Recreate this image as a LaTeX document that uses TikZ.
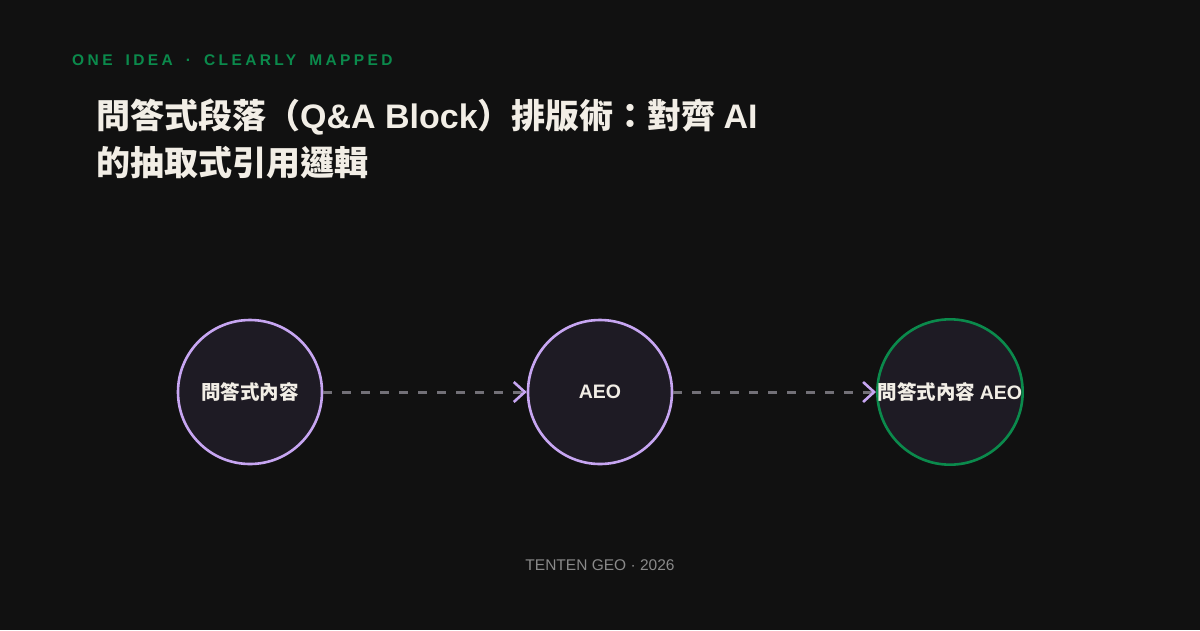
\documentclass[tikz,border=0pt]{standalone}
\usepackage{fontspec}
\usetikzlibrary{arrows.meta}
\newfontfamily\cjk{Noto Sans CJK TC}
\newfontfamily\lsans{Liberation Sans}
\newcommand{\lat}[1]{{\lsans\bfseries #1}}
\newcommand{\wsp}{\hspace{13pt}}
\definecolor{bg}{HTML}{111111}
\definecolor{nodefill}{HTML}{1E1B24}
\definecolor{lav}{HTML}{C7A6F2}
\definecolor{grn}{HTML}{0B8A4C}
\definecolor{txt}{HTML}{F2EEE6}
\definecolor{edgegray}{HTML}{727077}
\definecolor{foot}{HTML}{8A8A8A}
\tikzset{
  stage/.style={circle, minimum size=144pt, inner sep=0pt, fill=nodefill, line width=2.6pt, text=txt, font=\cjk\bfseries\fontsize{19.5}{22}\selectfont},
  flowedge/.style={draw=edgegray, line width=3pt, dash pattern=on 9pt off 10pt, -{Straight Barb[length=11pt,width=20pt,color=lav,line width=2.6pt]}},
}
\begin{document}
\begin{tikzpicture}[x=1pt,y=-1pt]
\fill[bg] (0,0) rectangle (1200,630);
\useasboundingbox (0,0) rectangle (1200,630);
\node[anchor=west, text=grn, font=\lsans\bfseries\fontsize{15.5}{18}\selectfont\addfontfeatures{LetterSpace=22}, inner sep=0pt] (kicker) at (72,60) {ONE\wsp IDEA\wsp ·\wsp CLEARLY\wsp MAPPED};
\node[anchor=west, text=txt, font=\cjk\bfseries\fontsize{34}{46}\selectfont, inner sep=0pt, align=left] (title1) at (96,117) {問答式段落（\lat{Q\&A Block}）排版術：對齊 \lat{AI}};
\node[anchor=west, text=txt, font=\cjk\bfseries\fontsize{34}{46}\selectfont, inner sep=0pt, align=left] (title2) at (96,163) {的抽取式引用邏輯};
\node[stage, draw=lav] (n1) at (250,392) {問答式內容};
\node[stage, draw=lav] (n2) at (600,392) {\lat{AEO}};
\node[stage, draw=grn] (n3) at (950,392) {問答式內容 \lat{AEO}};
\draw[flowedge] (n1) -- (n2);
\draw[flowedge] (n2) -- (n3);
\node[text=foot, font=\lsans\fontsize{15.5}{18}\selectfont, inner sep=0pt] (footer) at (600,565) {TENTEN GEO · 2026};
\end{tikzpicture}
\end{document}
